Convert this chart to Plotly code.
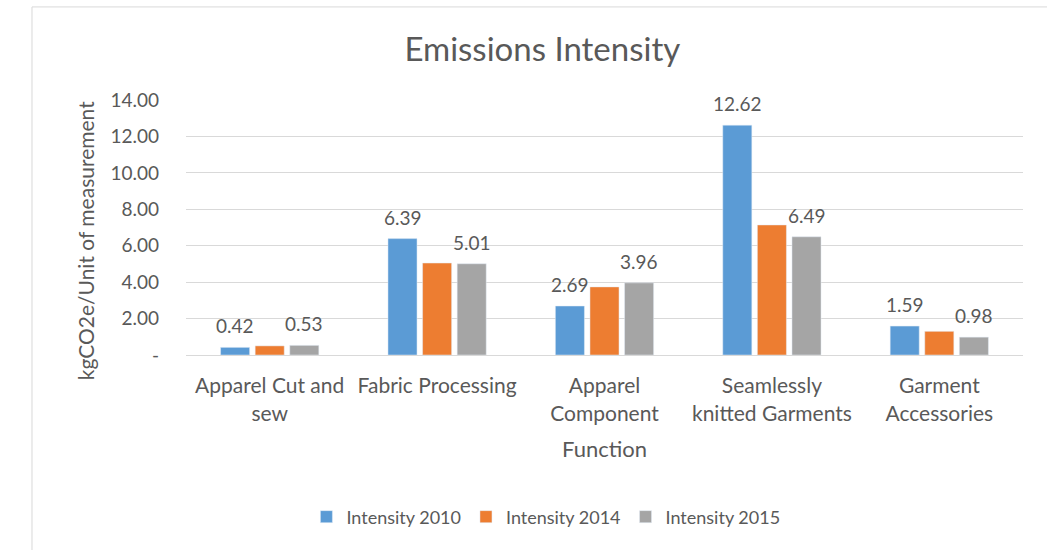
import plotly.graph_objects as go

categories = ["Apparel Cut and<br>sew", "Fabric Processing", "Apparel<br>Component",
              "Seamlessly<br>knitted Garments", "Garment<br>Accessories"]
intensity_2010 = [0.42, 6.39, 2.69, 12.62, 1.59]
intensity_2014 = [0.50, 5.05, 3.74, 7.14, 1.30]
intensity_2015 = [0.53, 5.01, 3.96, 6.49, 0.98]
tick_vals = [0, 2, 4, 6, 8, 10, 12, 14]
tick_text = ["-", "2.00", "4.00", "6.00", "8.00", "10.00", "12.00", "14.00"]

FONT = "Lato"
TXT = "#595959"
BARGAP = 0.38
GROUPGAP = 0.16

fig = go.Figure()
fig.add_bar(x=categories, y=intensity_2010, name="Intensity 2010", marker_color="#5B9BD5")
fig.add_bar(x=categories, y=intensity_2014, name="Intensity 2014", marker_color="#ED7D31")
fig.add_bar(x=categories, y=intensity_2015, name="Intensity 2015", marker_color="#A5A5A5")

# data labels for 2010 and 2015 (left and right bar of each group)
slot = (1 - BARGAP) / 3
for i, (a, c) in enumerate(zip(intensity_2010, intensity_2015)):
    for xv, v in ((i - slot, a), (i + slot, c)):
        fig.add_annotation(x=xv, y=v, xref="x", yref="y", text=f"{v:.2f}", showarrow=False,
                           yanchor="bottom", yshift=8,
                           font=dict(size=19, color=TXT, family=FONT))

# y-axis title
fig.add_annotation(x=-0.1207, y=0.45, xref="paper", yref="paper", text="kgCO2e/Unit of measurement",
                   textangle=-90, showarrow=False, xanchor="center", yanchor="middle",
                   font=dict(size=21, color=TXT, family=FONT))

fig.update_layout(
    width=1047, height=550,
    paper_bgcolor="white", plot_bgcolor="white",
    margin=dict(l=186, r=24, t=100, b=195),
    barmode="group", bargap=BARGAP, bargroupgap=GROUPGAP,
    font=dict(family=FONT, color=TXT, size=16),
    title=dict(text="Emissions Intensity", x=0.518, xanchor="center", y=0.91, yanchor="middle",
               font=dict(size=33, color=TXT, family=FONT)),
    legend=dict(orientation="h", x=0.43, xanchor="center", y=-0.635, yanchor="middle",
                font=dict(size=18, color=TXT, family=FONT), itemwidth=30,
                traceorder="normal"),
)
fig.update_xaxes(showgrid=False, showline=True, linecolor="#D9D9D9", linewidth=1,
                 tickfont=dict(size=21, color=TXT, family=FONT), ticks="", ticklabelstandoff=12,
                 title=dict(text="Function", font=dict(size=22, color=TXT, family=FONT), standoff=18))
fig.update_yaxes(range=[0, 14], tickvals=tick_vals, ticktext=tick_text,
                 showgrid=True, gridcolor="#D9D9D9", gridwidth=1, zeroline=False,
                 tickfont=dict(size=19, color=TXT, family=FONT), ticks="", ticklabelstandoff=26)
# chart frame
fig.add_shape(type="rect", xref="paper", yref="paper", x0=-0.184, x1=1.2, y0=-1.5, y1=1.365,
              line=dict(color="#D9D9D9", width=1), fillcolor="rgba(0,0,0,0)", layer="below")

fig.write_html("out.html")
